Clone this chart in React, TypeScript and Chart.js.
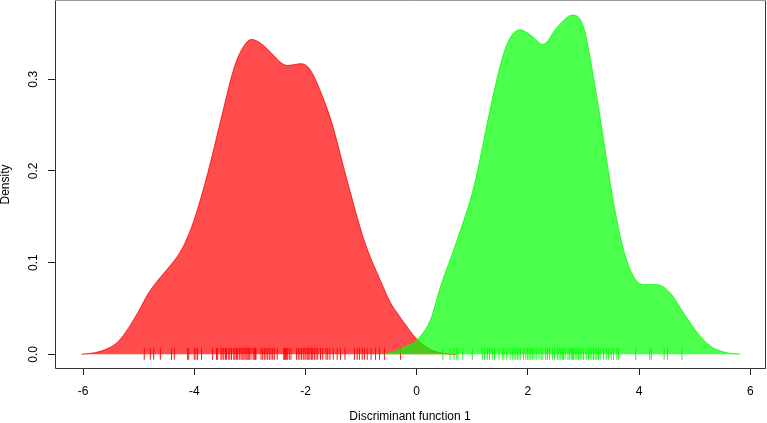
import React, { useEffect, useRef } from "react";
import { Chart, registerables } from "chart.js";

Chart.register(...registerables);

// Density curve of group 1 (red)
const redX = [-6.03, -5.79, -5.55, -5.37, -5.19, -5.01, -4.83, -4.65, -4.47, -4.29, -4.17, -4.0, -3.76, -3.52, -3.28, -3.1, -2.97, -2.8, -2.62, -2.44, -2.32, -2.2, -2.08, -1.95, -1.84, -1.7, -1.54, -1.24, -0.95, -0.65, -0.47, -0.35, -0.15, 0.01, 0.2, 0.37, 0.55, 0.7];
const redY = [0.0, 0.0017, 0.0065, 0.0138, 0.028, 0.046, 0.066, 0.081, 0.094, 0.108, 0.121, 0.147, 0.197, 0.256, 0.313, 0.337, 0.3435, 0.339, 0.329, 0.318, 0.315, 0.316, 0.317, 0.313, 0.302, 0.282, 0.255, 0.187, 0.125, 0.08, 0.056, 0.045, 0.028, 0.016, 0.007, 0.0025, 0.0005, 0.0];

// Density curve of group 2 (green)
const greenX = [-0.59, -0.4, -0.23, 0.01, 0.25, 0.43, 0.73, 1.03, 1.27, 1.45, 1.63, 1.86, 2.05, 2.27, 2.53, 2.8, 3.0, 3.18, 3.36, 3.54, 3.72, 3.9, 4.08, 4.32, 4.56, 4.8, 5.04, 5.28, 5.52, 5.82];
const greenY = [0.0, 0.003, 0.0076, 0.016, 0.038, 0.074, 0.125, 0.183, 0.252, 0.302, 0.339, 0.354, 0.348, 0.338, 0.357, 0.37, 0.357, 0.302, 0.234, 0.165, 0.114, 0.085, 0.076, 0.076, 0.067, 0.045, 0.024, 0.009, 0.0025, 0.0];

// Rug (individual observations)
const redRug = [-4.9, -4.79, -4.73, -4.61, -4.41, -4.36, -4.12, -4.1, -4.0, -3.97, -3.94, -3.87, -3.67, -3.6, -3.58, -3.52, -3.5, -3.47, -3.44, -3.42, -3.38, -3.36, -3.33, -3.29, -3.27, -3.24, -3.22, -3.19, -3.16, -3.14, -3.12, -3.09, -3.07, -3.05, -3.03, -3.01, -2.98, -2.94, -2.92, -2.9, -2.89, -2.8, -2.77, -2.74, -2.71, -2.68, -2.65, -2.62, -2.59, -2.56, -2.51, -2.39, -2.38, -2.36, -2.34, -2.32, -2.29, -2.26, -2.16, -2.13, -2.1, -2.07, -2.04, -2.01, -1.99, -1.96, -1.94, -1.92, -1.89, -1.87, -1.84, -1.81, -1.78, -1.73, -1.69, -1.63, -1.6, -1.56, -1.5, -1.43, -1.37, -1.29, -1.12, -1.07, -1.03, -0.98, -0.94, -0.89, -0.82, -0.74, -0.67, -0.58, -0.29];
const greenRug = [0.47, 0.6, 0.67, 0.71, 0.74, 0.83, 1.0, 1.18, 1.22, 1.27, 1.31, 1.36, 1.4, 1.48, 1.54, 1.57, 1.62, 1.68, 1.72, 1.75, 1.78, 1.81, 1.84, 1.87, 1.92, 1.96, 1.99, 2.02, 2.05, 2.08, 2.11, 2.15, 2.2, 2.24, 2.27, 2.32, 2.35, 2.39, 2.44, 2.48, 2.53, 2.56, 2.59, 2.62, 2.64, 2.67, 2.72, 2.75, 2.78, 2.8, 2.82, 2.85, 2.88, 2.91, 2.94, 2.97, 3.0, 3.05, 3.09, 3.12, 3.15, 3.18, 3.21, 3.24, 3.27, 3.3, 3.36, 3.41, 3.45, 3.5, 3.54, 3.6, 3.63, 3.94, 4.19, 4.22, 4.45, 4.51, 4.77];

const xTicks = [-6, -4, -2, 0, 2, 4, 6];
const yTicks = [0.0, 0.1, 0.2, 0.3];

const xTitle = "Discriminant function 1";
const yTitle = "Density";

const boxPlugin = {
  id: "rbox",
  afterDraw(chart: any) {
    const { ctx, chartArea } = chart;
    const l = chartArea.left + 0.5;
    const r = chartArea.right + 0.5;
    const t = chartArea.top - 0.5;
    const b = chartArea.bottom + 0.5;
    ctx.save();
    ctx.lineWidth = 1;
    ctx.strokeStyle = "#333";
    ctx.beginPath();
    ctx.moveTo(l, t);
    ctx.lineTo(l, b);
    ctx.lineTo(r, b);
    ctx.lineTo(r, t);
    ctx.stroke();
    ctx.strokeStyle = "#999";
    ctx.beginPath();
    ctx.moveTo(l, t);
    ctx.lineTo(r, t);
    ctx.stroke();
    ctx.restore();
  },
};

export default function App() {
  const ref = useRef<HTMLCanvasElement>(null);

  useEffect(() => {
    if (!ref.current) return;
    Chart.defaults.font.family = "'Liberation Sans', Arial, sans-serif";
    Chart.defaults.font.size = 12;
    Chart.defaults.color = "#000";

    const chart = new Chart(ref.current, {
      type: "line",
      data: {
        datasets: [
          {
            type: "line",
            data: redX.map((x, i) => ({ x, y: redY[i] })),
            borderColor: "rgba(255,0,0,0.8)",
            backgroundColor: "rgba(255,0,0,0.7)",
            borderWidth: 1,
            fill: "origin",
            pointRadius: 0,
            cubicInterpolationMode: "monotone",
            order: 4,
          },
          {
            type: "scatter",
            data: redRug.map((x) => ({ x, y: 0.0005 })),
            pointStyle: "line",
            pointRotation: 90,
            pointRadius: 6,
            pointHoverRadius: 6,
            pointBorderWidth: 1,
            pointBorderColor: "rgba(255,0,0,0.9)",
            borderColor: "rgba(255,0,0,0.9)",
            order: 3,
          },
          {
            type: "line",
            data: greenX.map((x, i) => ({ x, y: greenY[i] })),
            borderColor: "rgba(0,255,0,0.8)",
            backgroundColor: "rgba(0,255,0,0.7)",
            borderWidth: 1,
            fill: "origin",
            pointRadius: 0,
            cubicInterpolationMode: "monotone",
            order: 2,
          },
          {
            type: "scatter",
            data: greenRug.map((x) => ({ x, y: 0.0005 })),
            pointStyle: "line",
            pointRotation: 90,
            pointRadius: 6,
            pointHoverRadius: 6,
            pointBorderWidth: 1,
            pointBorderColor: "rgba(0,255,0,0.9)",
            borderColor: "rgba(0,255,0,0.9)",
            order: 1,
          },
        ],
      } as any,
      options: {
        responsive: false,
        animation: false,
        events: [],
        layout: { autoPadding: false, padding: { top: 1, right: 2, left: 0, bottom: 0 } },
        plugins: {
          legend: { display: false },
          tooltip: { enabled: false },
        },
        scales: {
          x: {
            type: "linear",
            min: -6.505,
            max: 6.264,
            afterBuildTicks: (s: any) => {
              s.ticks = xTicks.map((value) => ({ value }));
            },
            afterFit: (s: any) => {
              s.height = 55;
              s.paddingLeft = 0;
              s.paddingRight = 0;
            },
            grid: { drawOnChartArea: false, drawTicks: true, tickLength: 7, color: "#222" },
            border: { display: false },
            ticks: {
              padding: 9,
              maxRotation: 0,
              autoSkip: false,
              callback: (v: any) => String(v),
            },
            title: {
              display: true,
              text: xTitle,
              font: { size: 12, lineHeight: 1 },
              padding: { top: 0, bottom: 0 },
            },
          },
          y: {
            type: "linear",
            min: -0.01495,
            max: 0.3854,
            afterBuildTicks: (s: any) => {
              s.ticks = yTicks.map((value) => ({ value }));
            },
            afterFit: (s: any) => {
              s.width = 55;
              s.paddingTop = 0;
              s.paddingBottom = 0;
            },
            grid: { drawOnChartArea: false, drawTicks: true, tickLength: 7, color: "#222" },
            border: { display: false },
            ticks: {
              padding: 6,
              minRotation: 90,
              maxRotation: 90,
              crossAlign: "center",
              autoSkip: false,
              callback: (v: any) => Number(v).toFixed(1),
            },
            title: {
              display: true,
              text: yTitle,
              font: { size: 12, lineHeight: 1 },
              padding: { top: 0, bottom: 0 },
            },
          },
        },
      } as any,
      plugins: [boxPlugin],
    });
    return () => chart.destroy();
  }, []);

  return (
    <div style={{ position: "absolute", left: 0, top: 0, width: 767, height: 423, background: "#fff" }}>
      <canvas ref={ref} width={767} height={423} />
    </div>
  );
}
